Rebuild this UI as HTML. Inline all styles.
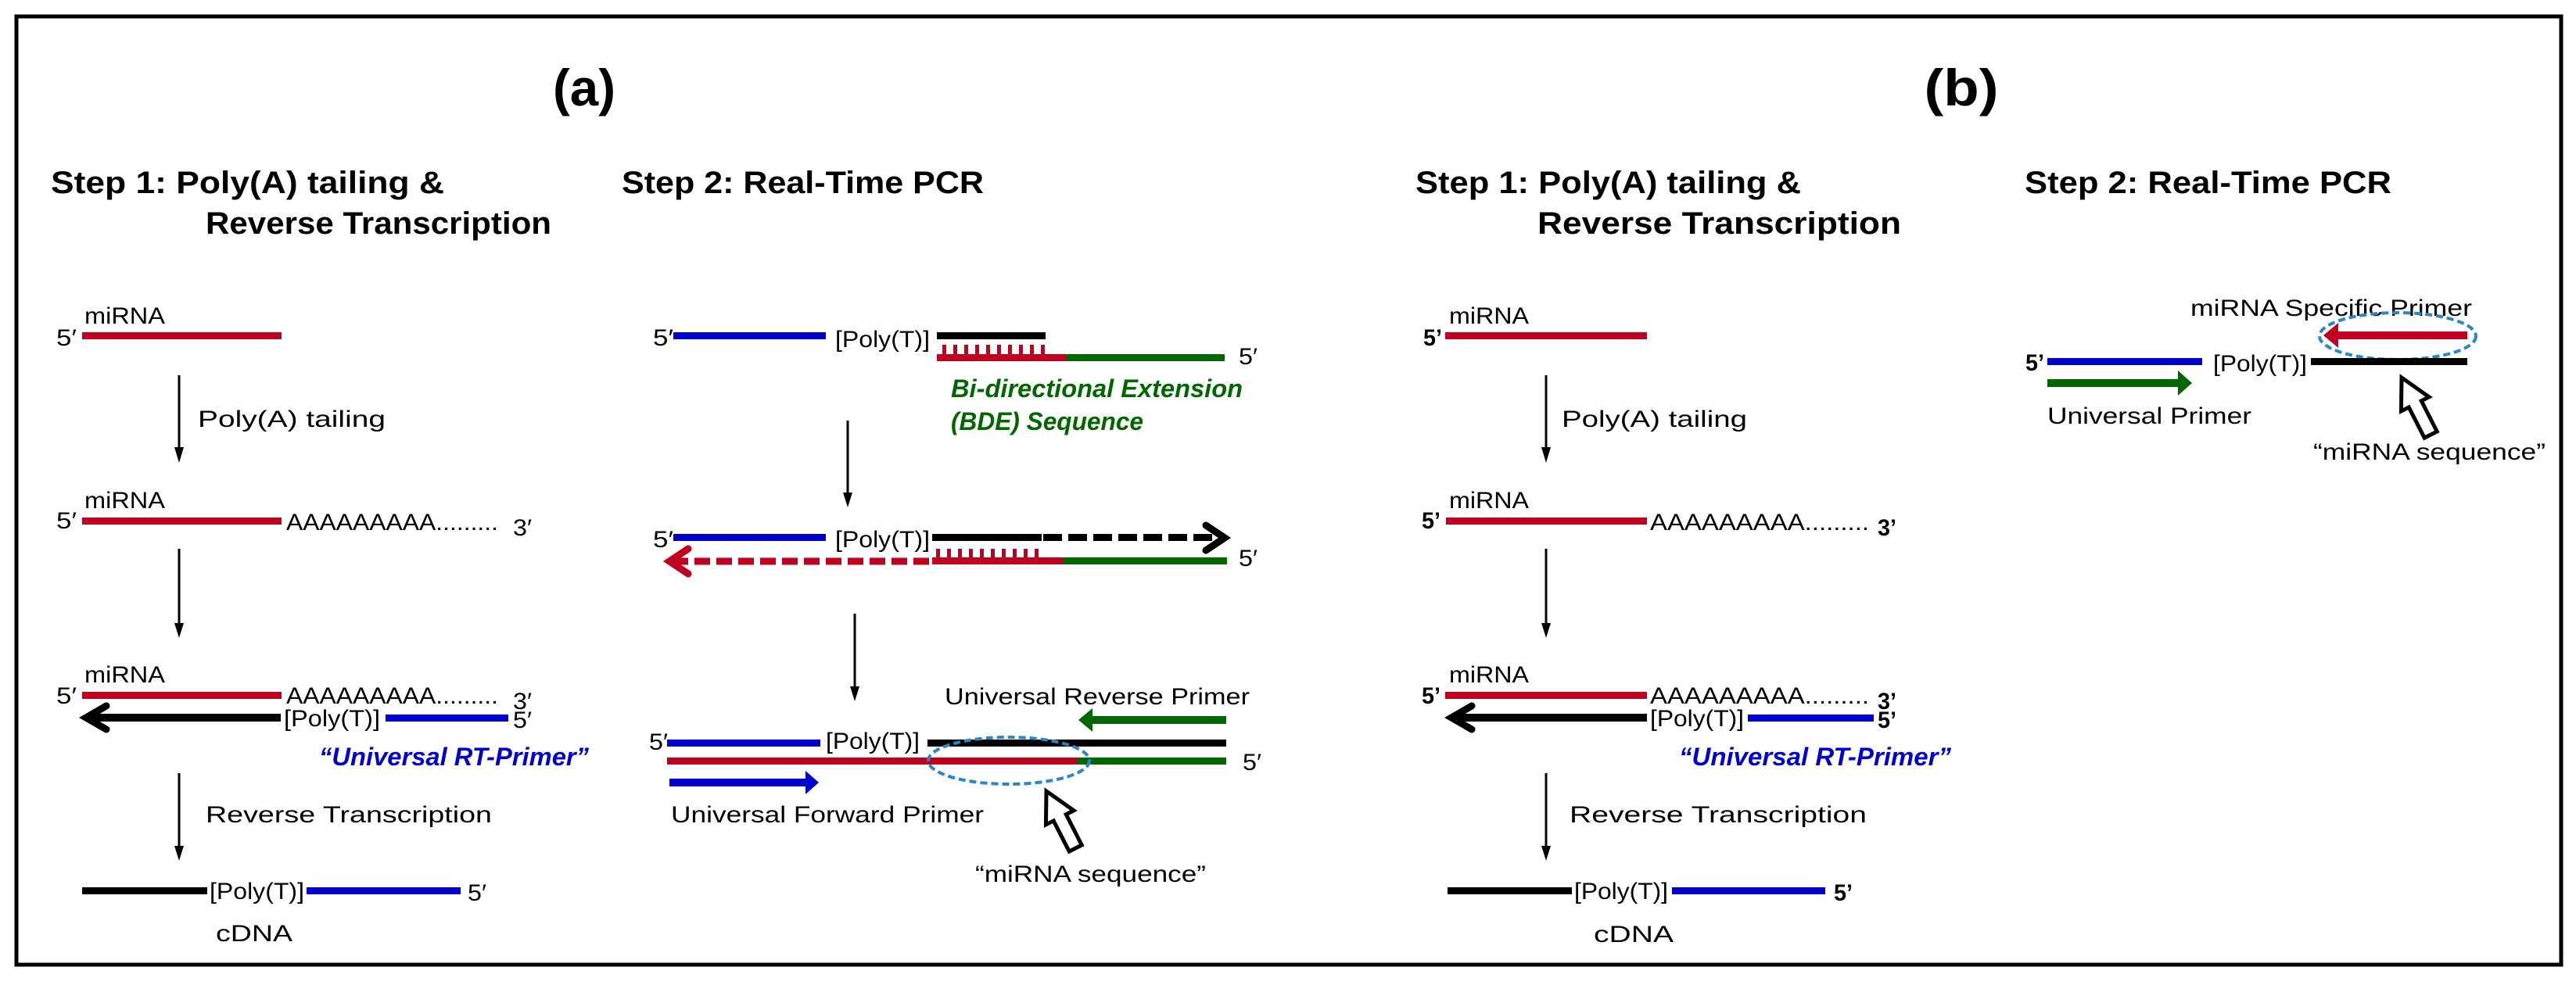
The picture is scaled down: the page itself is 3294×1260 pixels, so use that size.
<!DOCTYPE html>
<html><head><meta charset="utf-8"><style>
html,body{margin:0;padding:0;background:#fff}
svg{display:block}
text{font-family:"Liberation Sans",sans-serif;fill:#000}
.h{font-weight:bold;font-size:40px}
.t{font-size:30px}
.tb{font-size:30px;font-weight:bold}
</style></head><body>
<svg width="3294" height="1260" viewBox="0 0 3294 1260" xmlns="http://www.w3.org/2000/svg">
<defs>
<marker id="ah" markerWidth="12" markerHeight="12" refX="6" refY="12" orient="auto" markerUnits="userSpaceOnUse">
</marker>
</defs>
<rect x="21" y="21" width="3254" height="1213" fill="none" stroke="#000" stroke-width="5"/>

<!-- ============ PANEL A ============ -->
<text x="747" y="135" font-size="66" font-weight="bold" text-anchor="middle" textLength="80" lengthAdjust="spacingAndGlyphs">(a)</text>
<text class="h" x="65" y="247" textLength="503" lengthAdjust="spacingAndGlyphs">Step 1:  Poly(A)  tailing &amp;</text>
<text class="h" x="263" y="299" textLength="442" lengthAdjust="spacingAndGlyphs">Reverse Transcription</text>
<text class="h" x="795" y="247" textLength="463" lengthAdjust="spacingAndGlyphs">Step 2:  Real-Time PCR</text>

<!-- step1 row1 -->
<text class="t" x="108" y="414" textLength="103" lengthAdjust="spacingAndGlyphs">miRNA</text>
<text class="t" x="72" y="442" textLength="26" lengthAdjust="spacingAndGlyphs">5′</text>
<rect x="105" y="425" width="255" height="9" fill="#c0001f"/>
<line x1="229" y1="480" x2="229" y2="575" stroke="#000" stroke-width="3"/>
<polygon points="223,572 235,572 229,592" fill="#000"/>
<text class="t" x="253" y="546" textLength="240" lengthAdjust="spacingAndGlyphs">Poly(A) tailing</text>

<!-- row2 -->
<text class="t" x="108" y="650" textLength="103" lengthAdjust="spacingAndGlyphs">miRNA</text>
<text class="t" x="72" y="676" textLength="26" lengthAdjust="spacingAndGlyphs">5′</text>
<rect x="105" y="662" width="255" height="9" fill="#c0001f"/>
<text class="t" x="366" y="678" textLength="271" lengthAdjust="spacingAndGlyphs">AAAAAAAAA.........</text>
<text class="t" x="656" y="685" textLength="24" lengthAdjust="spacingAndGlyphs">3′</text>
<line x1="229" y1="702" x2="229" y2="800" stroke="#000" stroke-width="3"/>
<polygon points="223,797 235,797 229,816" fill="#000"/>

<!-- row3 -->
<text class="t" x="108" y="873" textLength="103" lengthAdjust="spacingAndGlyphs">miRNA</text>
<text class="t" x="72" y="900" textLength="26" lengthAdjust="spacingAndGlyphs">5′</text>
<rect x="105" y="885" width="255" height="9" fill="#c0001f"/>
<text class="t" x="366" y="900" textLength="271" lengthAdjust="spacingAndGlyphs">AAAAAAAAA.........</text>
<text class="t" x="656" y="907" textLength="24" lengthAdjust="spacingAndGlyphs">3′</text>
<line x1="110" y1="918" x2="359" y2="918" stroke="#000" stroke-width="10"/>
<polyline points="136,903 110,918 136,933" fill="none" stroke="#000" stroke-width="9" stroke-linecap="round" stroke-linejoin="miter"/>
<text class="t" x="363" y="929" textLength="123" lengthAdjust="spacingAndGlyphs">[Poly(T)]</text>
<rect x="493" y="914" width="157" height="9" fill="#0000cc"/>
<text class="t" x="656" y="931" textLength="24" lengthAdjust="spacingAndGlyphs">5′</text>
<text x="408" y="979" font-size="32" font-style="italic" font-weight="bold" fill="#0000cc" style="fill:#0000cc" textLength="345" lengthAdjust="spacingAndGlyphs">“Universal  RT-Primer”</text>
<line x1="229" y1="989" x2="229" y2="1085" stroke="#000" stroke-width="3"/>
<polygon points="223,1082 235,1082 229,1101" fill="#000"/>
<text class="t" x="263" y="1052" textLength="366" lengthAdjust="spacingAndGlyphs">Reverse Transcription</text>

<!-- cDNA -->
<rect x="105" y="1135" width="160" height="9" fill="#000"/>
<text class="t" x="268" y="1150" textLength="121" lengthAdjust="spacingAndGlyphs">[Poly(T)]</text>
<rect x="392" y="1135" width="197" height="9" fill="#0000cc"/>
<text class="t" x="598" y="1152" textLength="24" lengthAdjust="spacingAndGlyphs">5′</text>
<text class="t" x="276" y="1204" textLength="98" lengthAdjust="spacingAndGlyphs">cDNA</text>

<!-- step2 row1 -->
<text class="t" x="835" y="442" textLength="26" lengthAdjust="spacingAndGlyphs">5′</text>
<rect x="861" y="425" width="195" height="9" fill="#0000cc"/>
<text class="t" x="1068" y="444" textLength="121" lengthAdjust="spacingAndGlyphs">[Poly(T)]</text>
<rect x="1198" y="425" width="139" height="9" fill="#000"/>
<g fill="#c0001f">
<rect x="1205" y="441" width="5" height="12"/><rect x="1219" y="441" width="5" height="12"/><rect x="1233" y="441" width="5" height="12"/><rect x="1247" y="441" width="5" height="12"/><rect x="1261" y="441" width="5" height="12"/><rect x="1275" y="441" width="5" height="12"/><rect x="1289" y="441" width="5" height="12"/><rect x="1303" y="441" width="5" height="12"/><rect x="1317" y="441" width="5" height="12"/><rect x="1331" y="441" width="5" height="12"/>
</g>
<rect x="1198" y="453" width="165" height="9" fill="#c0001f"/>
<rect x="1363" y="453" width="203" height="9" fill="#006600"/>
<text class="t" x="1584" y="466" textLength="24" lengthAdjust="spacingAndGlyphs">5′</text>
<text x="1216" y="508" font-size="32" font-style="italic" font-weight="bold" style="fill:#006600" textLength="373" lengthAdjust="spacingAndGlyphs">Bi-directional Extension</text>
<text x="1216" y="550" font-size="32" font-style="italic" font-weight="bold" style="fill:#006600" textLength="246" lengthAdjust="spacingAndGlyphs">(BDE) Sequence</text>
<line x1="1084" y1="538" x2="1084" y2="632" stroke="#000" stroke-width="3"/>
<polygon points="1078,630 1090,630 1084,649" fill="#000"/>

<!-- step2 row2 -->
<text class="t" x="835" y="700" textLength="26" lengthAdjust="spacingAndGlyphs">5′</text>
<rect x="861" y="683" width="195" height="9" fill="#0000cc"/>
<text class="t" x="1068" y="700" textLength="121" lengthAdjust="spacingAndGlyphs">[Poly(T)]</text>
<rect x="1192" y="683" width="140" height="9" fill="#000"/>
<line x1="1334" y1="687.5" x2="1560" y2="687.5" stroke="#000" stroke-width="9" stroke-dasharray="24,8"/>
<polyline points="1542,672 1566,688 1542,704" fill="none" stroke="#000" stroke-width="9" stroke-linecap="round"/>
<line x1="860" y1="718" x2="1190" y2="718" stroke="#c0001f" stroke-width="9" stroke-dasharray="20,8"/>
<polyline points="880,702 856,718 880,734" fill="none" stroke="#c0001f" stroke-width="9" stroke-linecap="round"/>
<g fill="#c0001f">
<rect x="1197" y="702" width="5" height="12"/><rect x="1211" y="702" width="5" height="12"/><rect x="1225" y="702" width="5" height="12"/><rect x="1239" y="702" width="5" height="12"/><rect x="1253" y="702" width="5" height="12"/><rect x="1267" y="702" width="5" height="12"/><rect x="1281" y="702" width="5" height="12"/><rect x="1295" y="702" width="5" height="12"/><rect x="1309" y="702" width="5" height="12"/><rect x="1323" y="702" width="5" height="12"/>
</g>
<rect x="1192" y="713" width="167" height="9" fill="#c0001f"/>
<rect x="1359" y="713" width="210" height="9" fill="#006600"/>
<text class="t" x="1584" y="724" textLength="24" lengthAdjust="spacingAndGlyphs">5′</text>
<line x1="1093" y1="785" x2="1093" y2="880" stroke="#000" stroke-width="3"/>
<polygon points="1087,878 1099,878 1093,897" fill="#000"/>

<!-- step2 row3 -->
<text class="t" x="1208" y="901" textLength="390" lengthAdjust="spacingAndGlyphs">Universal  Reverse  Primer</text>
<rect x="1392" y="916" width="176" height="10" fill="#006600"/>
<polygon points="1379,921 1397,906 1397,936" fill="#006600"/>
<text class="t" x="830" y="959" textLength="24" lengthAdjust="spacingAndGlyphs">5′</text>
<rect x="853" y="946" width="196" height="9" fill="#0000cc"/>
<text class="t" x="1056" y="958" textLength="120" lengthAdjust="spacingAndGlyphs">[Poly(T)]</text>
<rect x="1186" y="946" width="382" height="9" fill="#000"/>
<rect x="853" y="969" width="525" height="9" fill="#c0001f"/>
<rect x="1378" y="969" width="190" height="9" fill="#006600"/>
<text class="t" x="1589" y="985" textLength="24" lengthAdjust="spacingAndGlyphs">5′</text>
<ellipse cx="1290" cy="973" rx="103" ry="30" fill="none" stroke="#2a86c6" stroke-width="4" stroke-dasharray="9,5"/>
<rect x="856" y="996" width="175" height="10" fill="#0000cc"/>
<polygon points="1047,1001 1030,986 1030,1016" fill="#0000cc"/>
<text class="t" x="858" y="1052" textLength="400" lengthAdjust="spacingAndGlyphs">Universal Forward Primer</text>
<polygon transform="translate(1338,1012) rotate(-27)" points="0,0 20,38 9,38 9,82 -9,82 -9,38 -20,38" fill="#fff" stroke="#000" stroke-width="5" stroke-linejoin="miter"/>
<text class="t" x="1247" y="1128" textLength="295" lengthAdjust="spacingAndGlyphs">“miRNA sequence”</text>

<!-- ============ PANEL B ============ -->
<text x="2508" y="135" font-size="66" font-weight="bold" text-anchor="middle" textLength="95" lengthAdjust="spacingAndGlyphs">(b)</text>
<text class="h" x="1810" y="247" textLength="493" lengthAdjust="spacingAndGlyphs">Step 1: Poly(A) tailing &amp;</text>
<text class="h" x="1966" y="299" textLength="465" lengthAdjust="spacingAndGlyphs">Reverse Transcription</text>
<text class="h" x="2589" y="247" textLength="469" lengthAdjust="spacingAndGlyphs">Step 2: Real-Time PCR</text>

<text class="t" x="1853" y="414" textLength="102" lengthAdjust="spacingAndGlyphs">miRNA</text>
<text class="tb" x="1820" y="442" textLength="24" lengthAdjust="spacingAndGlyphs">5’</text>
<rect x="1848" y="425" width="258" height="9" fill="#c0001f"/>
<line x1="1977" y1="480" x2="1977" y2="575" stroke="#000" stroke-width="3"/>
<polygon points="1971,572 1983,572 1977,592" fill="#000"/>
<text class="t" x="1997" y="546" textLength="237" lengthAdjust="spacingAndGlyphs">Poly(A) tailing</text>

<text class="t" x="1853" y="650" textLength="102" lengthAdjust="spacingAndGlyphs">miRNA</text>
<text class="tb" x="1818" y="676" textLength="24" lengthAdjust="spacingAndGlyphs">5’</text>
<rect x="1849" y="662" width="257" height="9" fill="#c0001f"/>
<text class="t" x="2110" y="678" textLength="280" lengthAdjust="spacingAndGlyphs">AAAAAAAAA.........</text>
<text class="tb" x="2401" y="685" textLength="24" lengthAdjust="spacingAndGlyphs">3’</text>
<line x1="1977" y1="702" x2="1977" y2="800" stroke="#000" stroke-width="3"/>
<polygon points="1971,797 1983,797 1977,816" fill="#000"/>

<text class="t" x="1853" y="873" textLength="102" lengthAdjust="spacingAndGlyphs">miRNA</text>
<text class="tb" x="1818" y="900" textLength="24" lengthAdjust="spacingAndGlyphs">5’</text>
<rect x="1848" y="885" width="258" height="9" fill="#c0001f"/>
<text class="t" x="2110" y="900" textLength="280" lengthAdjust="spacingAndGlyphs">AAAAAAAAA.........</text>
<text class="tb" x="2401" y="907" textLength="24" lengthAdjust="spacingAndGlyphs">3’</text>
<line x1="1856" y1="918" x2="2106" y2="918" stroke="#000" stroke-width="10"/>
<polyline points="1882,903 1856,918 1882,933" fill="none" stroke="#000" stroke-width="9" stroke-linecap="round"/>
<text class="t" x="2110" y="929" textLength="120" lengthAdjust="spacingAndGlyphs">[Poly(T)]</text>
<rect x="2235" y="914" width="161" height="9" fill="#0000cc"/>
<text class="tb" x="2401" y="931" textLength="24" lengthAdjust="spacingAndGlyphs">5’</text>
<text x="2147" y="979" font-size="32" font-style="italic" font-weight="bold" style="fill:#0000cc" textLength="348" lengthAdjust="spacingAndGlyphs">“Universal  RT-Primer”</text>
<line x1="1977" y1="989" x2="1977" y2="1085" stroke="#000" stroke-width="3"/>
<polygon points="1971,1082 1983,1082 1977,1101" fill="#000"/>
<text class="t" x="2007" y="1052" textLength="380" lengthAdjust="spacingAndGlyphs">Reverse Transcription</text>

<rect x="1851" y="1135" width="159" height="9" fill="#000"/>
<text class="t" x="2013" y="1150" textLength="120" lengthAdjust="spacingAndGlyphs">[Poly(T)]</text>
<rect x="2138" y="1135" width="196" height="9" fill="#0000cc"/>
<text class="tb" x="2345" y="1152" textLength="24" lengthAdjust="spacingAndGlyphs">5’</text>
<text class="t" x="2038" y="1205" textLength="102" lengthAdjust="spacingAndGlyphs">cDNA</text>

<!-- b step2 -->
<text class="t" x="2801" y="404" textLength="360" lengthAdjust="spacingAndGlyphs">miRNA Specific Primer</text>
<rect x="2988" y="424" width="167" height="10" fill="#c0001f"/>
<polygon points="2971,429 2990,413 2990,445" fill="#c0001f"/>
<ellipse cx="3066" cy="430" rx="100" ry="30" fill="none" stroke="#2a86c6" stroke-width="4" stroke-dasharray="9,5"/>
<text class="tb" x="2590" y="474" textLength="24" lengthAdjust="spacingAndGlyphs">5’</text>
<rect x="2618" y="458" width="198" height="9" fill="#0000cc"/>
<text class="t" x="2830" y="475" textLength="120" lengthAdjust="spacingAndGlyphs">[Poly(T)]</text>
<rect x="2955" y="458" width="200" height="9" fill="#000"/>
<rect x="2618" y="485" width="168" height="10" fill="#006600"/>
<polygon points="2803,490 2785,474 2785,506" fill="#006600"/>
<text class="t" x="2618" y="542" textLength="261" lengthAdjust="spacingAndGlyphs">Universal Primer</text>
<polygon transform="translate(3071,483) rotate(-27)" points="0,0 20,38 9,38 9,82 -9,82 -9,38 -20,38" fill="#fff" stroke="#000" stroke-width="5"/>
<text class="t" x="2958" y="588" textLength="297" lengthAdjust="spacingAndGlyphs">“miRNA sequence”</text>
</svg>
</body></html>
